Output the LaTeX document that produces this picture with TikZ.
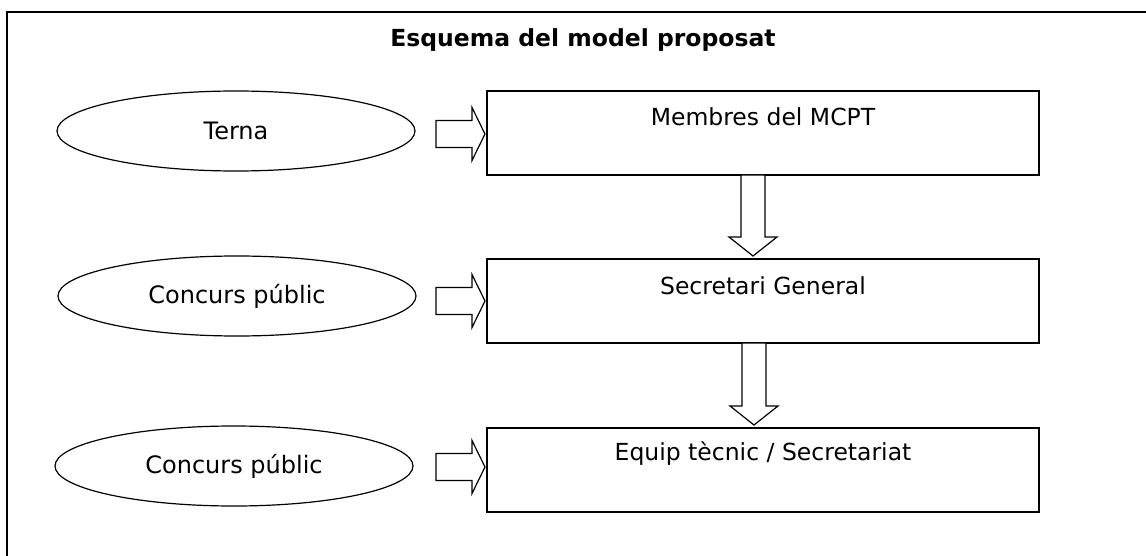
\documentclass[tikz,border=0pt]{standalone}
\usepackage{fontspec}
\setmainfont{DejaVu Sans}
\usetikzlibrary{shapes.geometric}
\tikzset{
  oval/.style={ellipse, draw, line width=1.2pt, minimum width=358pt, minimum height=80pt, inner sep=0pt, font=\fontsize{24}{28}\selectfont},
  stagebox/.style={rectangle, draw, line width=1.5pt, minimum width=552pt, minimum height=84pt, inner sep=0pt},
  txt/.style={inner sep=0pt, font=\fontsize{23.5}{28}\selectfont},
  blk/.style={draw, line width=1.2pt, fill=white, line join=miter},
}
\newcommand\rblock[1]{%
  \draw[blk] (436,{#1-13.5}) -- (472,{#1-13.5}) -- (472,{#1-26.5}) -- (485,#1) -- (472,{#1+26.5}) -- (472,{#1+13.5}) -- (436,{#1+13.5}) -- cycle;}
\newcommand\dblock[3]{% x center, top, tip
  \draw[blk] ({#1-12},#2) -- ({#1+12},#2) -- ({#1+12},{#3-19}) -- ({#1+24},{#3-19}) -- (#1,#3) -- ({#1-24},{#3-19}) -- ({#1-12},{#3-19}) -- ({#1-12},#2) -- cycle;}
\begin{document}
\begin{tikzpicture}[x=1pt,y=-1pt]
\useasboundingbox (0,0) rectangle (1146,556);
\clip (0,0) rectangle (1146,556);
\fill[white] (0,0) rectangle (1146,556);
\draw[line width=1.5pt] (7,12) rectangle (1170,580);
\node[inner sep=0pt, font=\fontsize{23.5}{28}\selectfont\bfseries] (title) at (583,40) {Esquema del model proposat};
% ovals
\node[oval] (o1) at (236,131) {Terna};
\node[oval] (o2) at (237,296) {Concurs públic};
\node[oval] (o3) at (234,466) {Concurs públic};
% boxes
\node[stagebox] (b1) at (763,133) {};
\node[stagebox] (b2) at (763,301) {};
\node[stagebox] (b3) at (763,470) {};
\node[txt] (t1) at ([yshift=-26pt]b1.north) {Membres del MCPT};
\node[txt] (t2) at ([yshift=-27pt]b2.north) {Secretari General};
\node[txt] (t3) at ([yshift=-26pt]b3.north) {Equip tècnic / Secretariat};
% right block arrows
\rblock{134}
\rblock{301}
\rblock{467}
% down block arrows
\dblock{753}{175}{256}
\dblock{754}{343}{425}
\end{tikzpicture}
\end{document}
